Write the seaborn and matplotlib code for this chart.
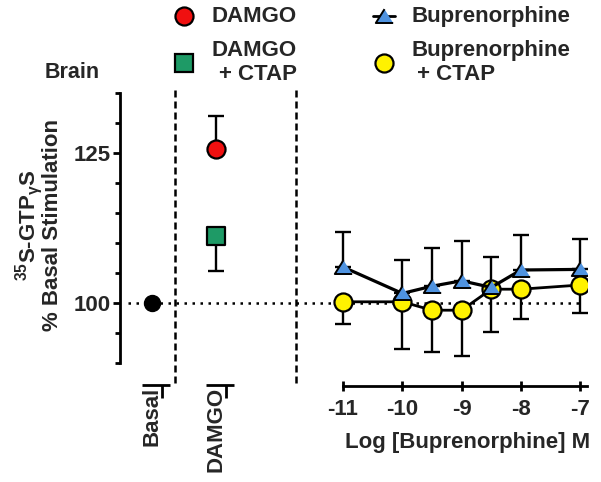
import matplotlib
matplotlib.use('Agg')
import matplotlib.pyplot as plt
import matplotlib.ticker as mticker
import matplotlib.transforms as mtransforms
from matplotlib.lines import Line2D
import numpy as np
import seaborn as sns

# ---------------- data ----------------
categories = ['Basal', 'DAMGO']
basal_value = [100.0]
damgo_value = [125.6]
damgo_err_up = [5.5]
damgo_ctap_value = [111.2]
damgo_ctap_err_down = [5.9]

log_conc = [-11, -10, -9.5, -9, -8.5, -8, -7]
bup_values = [106.0, 101.6, 102.8, 103.7, 102.6, 105.5, 105.6]
bup_err_up = [5.8, 5.6, 6.3, 6.6, 5.0, 5.8, 5.1]
bup_ctap_values = [100.2, 100.2, 98.8, 98.8, 102.3, 102.3, 103.0]
bup_ctap_err_down = [3.7, 7.9, 6.9, 7.6, 7.2, 4.9, 4.6]

x_ticks = [-11, -10, -9, -8, -7]
x_tick_labels = ['-11', '-10', '-9', '-8', '-7']
y_major = [100, 125]
y_major_labels = ['100', '125']

legend_labels = ['DAMGO', 'DAMGO\n+ CTAP', 'Buprenorphine', 'Buprenorphine\n + CTAP']

RED = '#F01010'
GREEN = '#1E9A66'
BLUE = '#4F93E0'
YELLOW = '#FFF200'

# ---------------- style ----------------
sns.set_theme(style='ticks')
plt.rcParams['font.family'] = ['Liberation Sans', 'DejaVu Sans']
plt.rcParams['font.weight'] = 'bold'
plt.rcParams['axes.labelweight'] = 'bold'
plt.rcParams['mathtext.fontset'] = 'custom'
plt.rcParams['mathtext.rm'] = 'Liberation Sans:bold'
plt.rcParams['mathtext.it'] = 'Liberation Sans:bold'
plt.rcParams['mathtext.bf'] = 'Liberation Sans:bold'

W, H, DPI = 601, 482, 100
fig = plt.figure(figsize=(W / DPI, H / DPI), dpi=DPI)
fig.patch.set_facecolor('white')

AX_TOP, AX_BOT = 93, 363
ax1 = fig.add_axes([120 / W, (H - AX_BOT) / H, 176 / W, (AX_BOT - AX_TOP) / H])
ax2 = fig.add_axes([296 / W, (H - AX_BOT) / H, 291 / W, (AX_BOT - AX_TOP) / H])
for ax in (ax1, ax2):
    ax.patch.set_visible(False)
    ax.set_ylim(90, 135)
    for s in ['top', 'right']:
        ax.spines[s].set_visible(False)

FS = 16
LW = 2.0
EW = 1.7

# ---------------- left panel ----------------
ax1.set_xlim(-0.5, 2.25)
ax1.spines['bottom'].set_visible(False)
ax1.spines['left'].set_linewidth(LW)
ax1.spines['left'].set_color('black')
ax1.set_yticks(y_major)
ax1.set_yticklabels(y_major_labels)
ax1.yaxis.set_minor_locator(mticker.MultipleLocator(5))
ax1.tick_params(axis='y', which='major', length=5, width=LW, color='black',
                labelsize=FS, pad=2, direction='out')
ax1.tick_params(axis='y', which='minor', length=3.6, width=LW, color='black',
                direction='out')
pos = np.arange(len(categories))
ax1.set_xticks(pos)
ax1.set_xticklabels(categories, rotation=90, fontsize=FS)
ax1.tick_params(axis='x', length=0, pad=17)

ax1.set_ylabel('$^{35}$S-GTP$_{\\gamma}$S\n% Basal Stimulation', fontsize=FS,
               linespacing=0.8)
ax1.yaxis.set_label_coords((63 - 120) / 176, 0.511)

# dotted basal line
ax1.axhline(100, xmin=8 / 176, xmax=1, color='black', lw=1.8,
            ls=(0, (1, 2.2)), zorder=1)
ax2.axhline(100, xmin=0, xmax=(582 - 296) / 291, color='black', lw=1.8,
            ls=(0, (1, 2.2)), zorder=1)

# dashed separators
for xs in [0.36, 2.25]:
    ax1.axvline(xs, ymin=-0.074, ymax=1.022, color='black', lw=1.8,
                ls=(0, (2.8, 1.6)), clip_on=False, zorder=1)

# category axis segments
trans = mtransforms.blended_transform_factory(ax1.transData, ax1.transAxes)
seg_y = -22 / 270
tick_y = -35 / 270
for i in pos:
    ax1.plot([i - 0.15, i + 0.28], [seg_y, seg_y], color='black', lw=LW,
             transform=trans, clip_on=False, solid_capstyle='butt')
    ax1.plot([i + 0.16, i + 0.16], [seg_y, tick_y], color='black', lw=LW,
             transform=trans, clip_on=False, solid_capstyle='butt')

# error bars
ax1.errorbar([pos[1]], damgo_value, yerr=[[0], damgo_err_up], fmt='none',
             ecolor='black', elinewidth=EW, capsize=6, capthick=EW, zorder=2)
ax1.errorbar([pos[1]], damgo_ctap_value, yerr=[damgo_ctap_err_down, [0]],
             fmt='none', ecolor='black', elinewidth=EW, capsize=6, capthick=EW,
             zorder=2)
sns.scatterplot(x=[pos[0]], y=basal_value, ax=ax1, color='black', marker='o',
                s=11.5 ** 2, edgecolor='black', linewidth=1, zorder=3)
sns.scatterplot(x=[pos[1]], y=damgo_value, ax=ax1, color=RED, marker='o',
                s=13 ** 2, edgecolor='black', linewidth=1.6, zorder=3)
sns.scatterplot(x=[pos[1]], y=damgo_ctap_value, ax=ax1, color=GREEN, marker='s',
                s=12.5 ** 2, edgecolor='black', linewidth=1.6, zorder=3)

# ---------------- right panel ----------------
PX_PER_UNIT = 59.3
ax2.set_xlim(-11 - (343 - 296) / PX_PER_UNIT, -11 + (587 - 343) / PX_PER_UNIT)
ax2.spines['left'].set_visible(False)
ax2.tick_params(axis='y', left=False, labelleft=False)
ax2.spines['bottom'].set_position(('outward', 23 * 72 / DPI))
ax2.spines['bottom'].set_bounds(-11, ax2.get_xlim()[1])
ax2.spines['bottom'].set_linewidth(LW)
ax2.spines['bottom'].set_color('black')
ax2.set_xticks(x_ticks)
ax2.set_xticklabels(x_tick_labels, fontsize=FS)
ax2.tick_params(axis='x', length=6.5, width=LW, color='black', direction='inout',
                pad=6)
ax2.set_xlabel('Log [Buprenorphine] M', fontsize=FS)
ax2.xaxis.set_label_coords(0.59, -0.255)

tri = [(0, 0.85), (-1, -0.75), (1, -0.75)]
zeros = [0] * len(log_conc)
ax2.errorbar(log_conc, bup_ctap_values, yerr=[bup_ctap_err_down, zeros],
             fmt='none', ecolor='black', elinewidth=EW, capsize=6, capthick=EW,
             zorder=2)
ax2.errorbar(log_conc, bup_values, yerr=[zeros, bup_err_up], fmt='none',
             ecolor='black', elinewidth=EW, capsize=6, capthick=EW, zorder=2)
sns.lineplot(x=log_conc, y=bup_ctap_values, ax=ax2, color='black', lw=LW,
             marker='o', markersize=13, markerfacecolor=YELLOW,
             markeredgecolor='black', markeredgewidth=1.6, zorder=3)
sns.lineplot(x=log_conc, y=bup_values, ax=ax2, color='black', lw=LW + 0.3,
             marker=tri, markersize=12.5, markerfacecolor=BLUE,
             markeredgecolor='black', markeredgewidth=1.4, zorder=4)

# ---------------- legend & text ----------------
handles = [
    Line2D([], [], ls='none', marker='o', ms=13, mfc=RED, mec='black', mew=1.6),
    Line2D([], [], ls='none', marker='s', ms=12.5, mfc=GREEN, mec='black', mew=1.6),
    Line2D([], [], ls='-', color='black', lw=LW, marker=tri, ms=12.5, mfc=BLUE,
           mec='black', mew=1.4),
    Line2D([], [], ls='none', marker='o', ms=13, mfc=YELLOW, mec='black', mew=1.6),
]
leg = fig.legend(handles, legend_labels, ncol=2, loc='upper left',
                 bbox_to_anchor=(173 / W, 1 - 6 / H), frameon=False,
                 fontsize=FS, handlelength=1.0, handletextpad=0.75,
                 columnspacing=3.4, labelspacing=0.6, borderpad=0,
                 borderaxespad=0)
for t in leg.get_texts():
    t.set_linespacing(1.15)
leg.get_texts()[1].set_multialignment('right')
for col in leg._legend_handle_box.get_children():
    for row in col.get_children():
        row.align = 'center'

fig.text(72 / W, 1 - 73 / H, 'Brain', ha='center', va='center', fontsize=15.5)

fig.savefig('out.png', dpi=DPI, facecolor='white')
